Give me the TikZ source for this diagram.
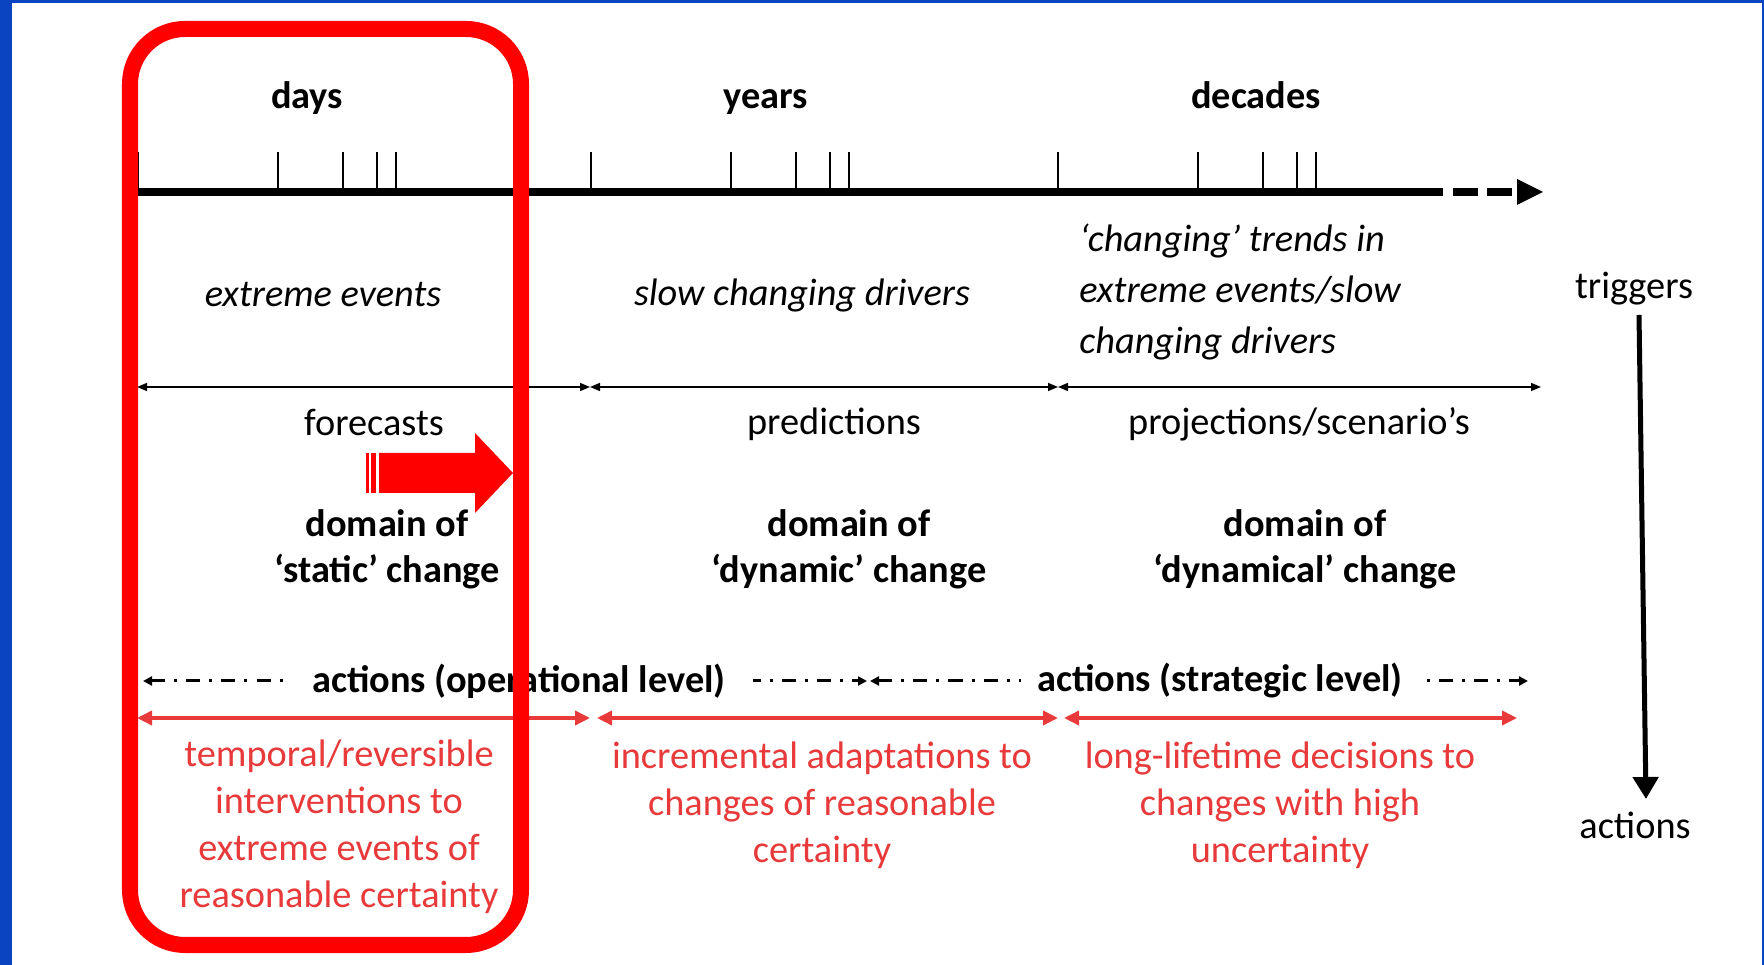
\documentclass[tikz,border=0pt]{standalone}
\usepackage{fontspec}
\setmainfont{Carlito}
\usetikzlibrary{arrows.meta}
\definecolor{frameblue}{RGB}{11,68,192}
\definecolor{boxred}{RGB}{255,0,0}
\definecolor{textred}{RGB}{232,58,58}
\newcommand{\basefont}{\fontsize{10.9}{13.6}\selectfont}

\begin{document}
\begin{tikzpicture}[line join=round,x=0.01cm,y=-0.01cm,font=\basefont,
    axistick/.style={line width=0.025cm},
    scalelabel/.style={font=\basefont\bfseries,anchor=base},
    driver/.style={font=\basefont\itshape},
    spanarrow/.style={line width=0.015cm,{Triangle[length=0.1cm,width=0.08cm]}-{Triangle[length=0.1cm,width=0.08cm]}},
    actionline/.style={line width=0.03cm,dash pattern=on 0.14cm off 0.09cm on 0.03cm off 0.09cm,{Triangle[length=0.09cm,width=0.09cm]}-{Triangle[length=0.09cm,width=0.09cm]}},
    actionlabel/.style={font=\basefont\bfseries,fill=white,inner ysep=0.05cm},
    domainlabel/.style={font=\fontsize{10.9}{13.1}\selectfont\bfseries,align=center},
    redspan/.style={textred,line width=0.035cm,{Triangle[length=0.15cm,width=0.14cm]}-{Triangle[length=0.15cm,width=0.14cm]}},
    redtext/.style={textred,align=center,font=\fontsize{10.9}{13.4}\selectfont}]
    \useasboundingbox (0,0) rectangle (1764,965);

    % Frame
    \fill[white] (0,0) rectangle (1764,965);
    \fill[frameblue] (0,0) rectangle (12,965);
    \fill[frameblue] (0,0) rectangle (1764,3);
    \fill[frameblue] (1762,0) rectangle (1764,965);

    % Time axis
    \draw[line width=0.08cm] (138,192) -- (1443,192);
    \draw[line width=0.08cm] (1453,192) -- (1478,192);
    \draw[line width=0.08cm] (1487,192) -- (1512,192);
    \fill (1517,179) -- (1543,192) -- (1517,205) -- cycle;
    \foreach \start in {138,591,1058} {
            \foreach \off in {0,140,205,239,258} {
                    \draw[axistick] (\start+\off,152) -- (\start+\off,192);
                }
        }

    % Time scales
    \node[scalelabel] (days) at (307,109) {days};
    \node[scalelabel] (years) at (766,109) {years};
    \node[scalelabel] (decades) at (1256,109) {decades};

    % Triggers
    \node[driver] (ev1) at (323,295) {extreme events};
    \node[driver] (ev2) at (802,295) {slow changing drivers};
    \node[driver,anchor=west,align=left,font=\fontsize{10.9}{14.5}\selectfont\itshape] (ev3) at (1067,292) {‘changing’ trends in\\extreme events/slow\\changing drivers};
    \node (trig) at (1634,289) {triggers};
    \node (act) at (1635,825) {actions};

    % Spans of the outlooks
    \coordinate (P0) at (137,387);
    \coordinate (P1) at (590,387);
    \coordinate (P2) at (1058,387);
    \coordinate (P3) at (1541,387);
    \foreach \source/\target in {P0/P1, P1/P2, P2/P3} {
            \draw[spanarrow] (\source) -- (\target);
        }
    \node (fc) at (374,423) {forecasts};
    \node (pred) at (834,424) {predictions};
    \node (proj) at (1299,424) {projections/scenario’s};

    % Domains
    \node[domainlabel] (dom1) at (387,549) {domain of\\‘static’ change};
    \node[domainlabel] (dom2) at (849,549) {domain of\\‘dynamic’ change};
    \node[domainlabel] (dom3) at (1305,549) {domain of\\‘dynamical’ change};

    % Action levels
    \coordinate (A0) at (143,681);
    \coordinate (A1) at (867,681);
    \coordinate (A2) at (870,681);
    \coordinate (A3) at (1528,681);
    \draw[actionline] (A0) -- (A1);
    \draw[actionline] (A2) -- (A3);
    \node[actionlabel,inner xsep=0.27cm] (op) at (519,681) {actions (operational level)};
    \node[actionlabel,inner xsep=0.16cm] (strat) at (1220,681) {actions (strategic level)};

    % Responses
    \coordinate (R0) at (137,718);
    \coordinate (R1) at (590,718);
    \coordinate (R2) at (597,718);
    \coordinate (R3) at (1058,718);
    \coordinate (R4) at (1064,718);
    \coordinate (R5) at (1517,718);
    \foreach \source/\target in {R0/R1, R2/R3, R4/R5} {
            \draw[redspan] (\source) -- (\target);
        }
    \node[redtext] (res1) at (339,827) {temporal/reversible\\interventions to\\extreme events of\\reasonable certainty};
    \node[redtext] (res2) at (822,805) {incremental adaptations to\\changes of reasonable\\certainty};
    \node[redtext] (res3) at (1280,805) {long-lifetime decisions to\\changes with high\\uncertainty};

    % From triggers to actions
    \coordinate (trigend) at (1639,315);
    \coordinate (actend) at (1646,799);
    \draw[line width=0.05cm,-{Triangle[length=0.22cm,width=0.25cm]}] (trigend) -- (actend);

    % Highlight of the static domain
    \fill[boxred] (366,453) rectangle (369,493);
    \fill[boxred] (371,453) rectangle (376,493);
    \fill[boxred] (379,453) -- (475,453) -- (475,433) -- (513,473) -- (475,513) -- (475,493) -- (379,493) -- cycle;
    \draw[boxred,line width=0.16cm,rounded corners=0.55cm] (130,29) rectangle (521,945);
\end{tikzpicture}
\end{document}
